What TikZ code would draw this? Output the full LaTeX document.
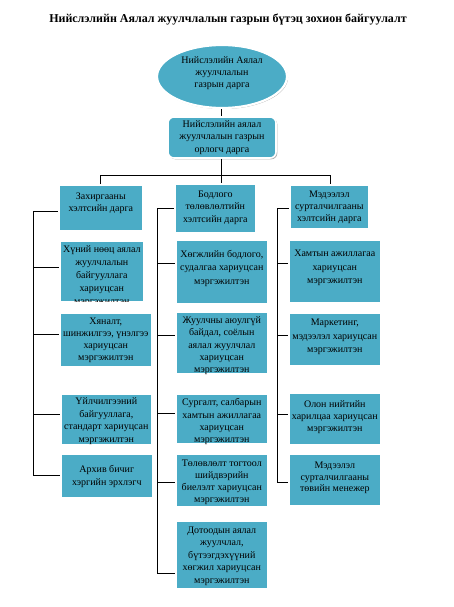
\documentclass[tikz,border=0pt]{standalone}
\usepackage{fontspec}
\setmainfont{Liberation Serif}
\usetikzlibrary{shapes.geometric,shadows}
\definecolor{boxteal}{HTML}{4BACC6}
\tikzset{
  orgbox/.style={draw=white, line width=1.6pt, fill=boxteal,
    drop shadow={shadow xshift=1.3pt, shadow yshift=-1.3pt, opacity=0.3, fill=black},
    inner sep=0pt, anchor=north west},
  boxtext/.style={align=center, anchor=north, inner sep=4pt, text=black},
  conn/.style={draw=black, line width=0.8pt},
}
% name, x, y, width, height, text, extra top offset, line skip
\newcommand\orgnode[8]{\node[orgbox, minimum width=#4pt, minimum height=#5pt,
  label={[boxtext, yshift=-#7pt, font=\fontsize{10}{#8}\selectfont]north:{#6}}] (#1) at (#2,#3) {};}
\begin{document}
\begin{tikzpicture}[x=1pt,y=-1pt]
\useasboundingbox (0,0) rectangle (454,607);
\fill[white] (0,0) rectangle (454,607);
\node[font=\bfseries\fontsize{12}{14}\selectfont] (title) at (228,20) {Нийслэлийн Аялал жуулчлалын газрын бүтэц зохион байгуулалт};

% top
\node[ellipse, fill=boxteal, draw=white, line width=2.2pt, minimum width=130pt, minimum height=63pt,
  drop shadow={shadow xshift=1pt, shadow yshift=-1pt, opacity=0.35, fill=black},
  label={[boxtext, anchor=center, yshift=3pt, font=\fontsize{10}{12}\selectfont]center:{Нийслэлийн Аялал\\жуулчлалын\\газрын дарга}}] (dir) at (222,76.5) {};
\node[orgbox, rounded corners=6pt, minimum width=108pt, minimum height=41pt, anchor=center,
  font=\fontsize{10}{12.5}\selectfont, align=center, text=black] (dep) at (222,137.5)
  {Нийслэлийн аялал\\жуулчлалын газрын\\орлогч дарга};

% column 1
\orgnode{zah}{58}{184}{84}{46}{Захиргааны\\хэлтсийн дарга}{4.5}{12.5}
\node[orgbox, minimum width=84pt, minimum height=61pt] (hun) at (59,240) {};
\begin{scope}
\clip ([shift={(0.8pt,-0.8pt)}]hun.north west) rectangle ([shift={(-0.8pt,0.8pt)}]hun.south east);
\node[boxtext, font=\fontsize{10}{13}\selectfont, yshift=-1pt] (huntext) at (hun.north) {Хүний нөөц аялал\\жуулчлалын\\байгууллага\\хариуцсан\\мэргэжилтэн};
\end{scope}
\orgnode{hyan}{59}{312}{92}{54}{Хяналт,\\шинжилгээ, үнэлгээ\\хариуцсан\\мэргэжилтэн}{1.5}{12}
\orgnode{uil}{60}{393}{91}{51}{Үйлчилгээний\\байгууллага,\\стандарт хариуцсан\\мэргэжилтэн}{0.5}{12.5}
\orgnode{arh}{60}{453}{92}{44}{Архив бичиг\\хэргийн эрхлэгч}{8}{13}

% column 2
\orgnode{bod}{174}{183}{81}{49}{Бодлого\\төлөвлөлтийн\\хэлтсийн дарга}{3.5}{12.5}
\orgnode{hog}{175}{239}{92}{64}{Хөгжлийн бодлого,\\судалгаа хариуцсан\\мэргэжилтэн}{7}{13.5}
\orgnode{juu}{175}{311}{92}{62}{Жуулчны аюулгүй\\байдал, соёлын\\аялал жуулчлал\\хариуцсан\\мэргэжилтэн}{1.5}{12.3}
\orgnode{sur}{175}{393}{92}{50}{Сургалт, салбарын\\хамтын ажиллагаа\\хариуцсан\\мэргэжилтэн}{1.5}{12.3}
\orgnode{tol}{175}{453}{92}{53}{Төлөвлөлт тогтоол\\шийдвэрийн\\биелэлт хариуцсан\\мэргэжилтэн}{2.5}{12}
\orgnode{dot}{175}{520}{92}{68}{Дотоодын аялал\\жуулчлал,\\бүтээгдэхүүний\\хөгжил хариуцсан\\мэргэжилтэн}{2.5}{12.5}

% column 3
\orgnode{med}{289}{184}{79}{44}{Мэдээлэл\\сурталчилгааны\\хэлтсийн дарга}{2.5}{12}
\orgnode{ham}{288}{239}{92}{63}{Хамтын ажиллагаа\\хариуцсан\\мэргэжилтэн}{7}{13.5}
\orgnode{mar}{288}{312}{92}{53}{Маркетинг,\\мэдээлэл хариуцсан\\мэргэжилтэн}{3}{13.5}
\orgnode{olo}{288}{392}{92}{52}{Олон нийтийн\\харилцаа хариуцсан\\мэргэжилтэн}{4.5}{12}
\orgnode{men}{288}{453}{92}{52}{Мэдээлэл\\сурталчилгааны\\төвийн менежер}{4.5}{11.8}

% connectors
\coordinate (busL) at (100,175);
\coordinate (busM) at (221,175);
\coordinate (busR) at (330,175);
\draw[conn] (dir.south -| busM) -- (dep.north -| busM);
\draw[conn] (dep.south -| busM) -- (bod.north -| busM);
\draw[conn] (zah.north -| busL) -- (busL) -- (busR) -- (med.north -| busR);

% spine 1
\coordinate (a1) at (33,211);
\coordinate (a2) at (33,267);
\coordinate (a3) at (33,334);
\coordinate (a4) at (33,414);
\coordinate (a5) at (33,475);
\draw[conn] (a1) -- (a5);
\draw[conn] (a1) -- (a1 -| zah.west);
\draw[conn] (a2) -- (a2 -| hun.west);
\draw[conn] (a3) -- (a3 -| hyan.west);
\draw[conn] (a4) -- (a4 -| uil.west);
\draw[conn] (a5) -- (a5 -| arh.west);

% spine 2
\coordinate (b1) at (157,208);
\coordinate (b2) at (157,263);
\coordinate (b3) at (157,335);
\coordinate (b4) at (157,413);
\coordinate (b5) at (157,482);
\coordinate (b6) at (157,573);
\draw[conn] (b1) -- (b6);
\draw[conn] (b1) -- (b1 -| bod.west);
\draw[conn] (b2) -- (b2 -| hog.west);
\draw[conn] (b3) -- (b3 -| juu.west);
\draw[conn] (b4) -- (b4 -| sur.west);
\draw[conn] (b5) -- (b5 -| tol.west);
\draw[conn] (b6) -- (b6 -| dot.west);

% spine 3
\coordinate (c1) at (277,208);
\coordinate (c2) at (277,263);
\coordinate (c3) at (277,335);
\coordinate (c4) at (277,414);
\coordinate (c5) at (277,482);
\draw[conn] (c1) -- (c5);
\draw[conn] (c1) -- (c1 -| med.west);
\draw[conn] (c2) -- (c2 -| ham.west);
\draw[conn] (c3) -- (c3 -| mar.west);
\draw[conn] (c4) -- (c4 -| olo.west);
\draw[conn] (c5) -- (c5 -| men.west);
\end{tikzpicture}
\end{document}
